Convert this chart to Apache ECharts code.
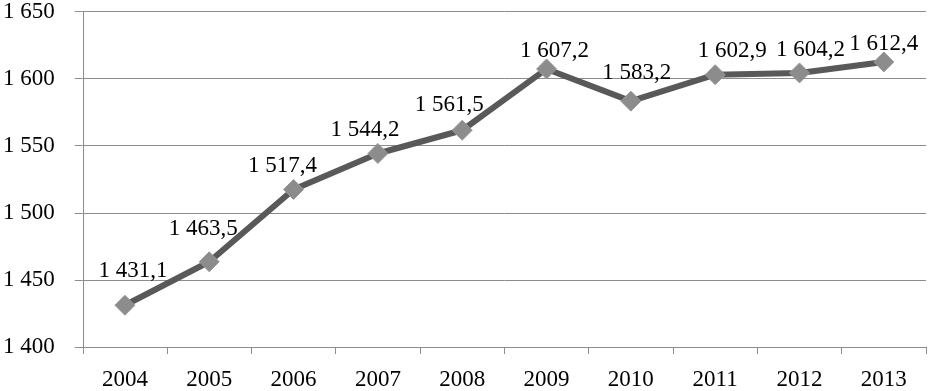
<!DOCTYPE html>
<html lang="ru">
<head>
    <meta charset="UTF-8">
    <title>line chart</title>
    <script type="text/javascript" src="https://cdn.jsdelivr.net/npm/echarts@6/dist/echarts.min.js"></script>
    <style>
        html, body { margin: 0; padding: 0; background: #fff; }
    </style>
</head>
<body>
    <div id="main" style="width: 928px; height: 391px;"></div>
    <script type="text/javascript">
        var years = ['2004', '2005', '2006', '2007', '2008', '2009', '2010', '2011', '2012', '2013'];
        var values = [1431.1, 1463.5, 1517.4, 1544.2, 1561.5, 1607.2, 1583.2, 1602.9, 1604.2, 1612.4];
        var yTicks = [1400, 1450, 1500, 1550, 1600, 1650];

        // label nudges (px), as placed in the original
        var labelOffsets = [[8, -2], [-6, -1], [-11, 9], [-13, 8], [-13, 7],
                            [8, 14], [6, 4], [17, 8], [11, 9], [0, 14]];

        // 1 431,1 style
        function fmt(v, dec) {
            var s = dec ? v.toFixed(1) : String(v);
            var parts = s.split('.');
            var intPart = parts[0].replace(/\B(?=(\d{3})+(?!\d))/g, ' ');
            return parts.length > 1 ? intPart + ',' + parts[1] : intPart;
        }

        var myChart = echarts.init(document.getElementById('main'));
        var font = '"Liberation Serif", "Times New Roman", serif';

        var seriesData = values.map(function (v, i) {
            return { value: v, label: { offset: labelOffsets[i] } };
        });

        myChart.setOption({
            animation: false,
            grid: { left: 81, right: 2, top: 10, bottom: 39 },
            xAxis: {
                type: 'category',
                data: years,
                boundaryGap: true,
                axisLine: { lineStyle: { color: '#8c8c8c', width: 1 } },
                axisTick: { show: true, length: 7, lineStyle: { color: '#8c8c8c' } },
                axisLabel: { color: '#000', fontFamily: font, fontSize: 23, margin: 21 }
            },
            yAxis: {
                type: 'value',
                min: yTicks[0],
                max: yTicks[yTicks.length - 1],
                interval: 50,
                axisLine: { show: true, lineStyle: { color: '#8c8c8c', width: 1 } },
                axisTick: { show: true, length: 8, lineStyle: { color: '#8c8c8c' } },
                axisLabel: {
                    color: '#000', fontFamily: font, fontSize: 23, margin: 28,
                    formatter: function (v) { return fmt(v, false); }
                },
                splitLine: { lineStyle: { color: '#8c8c8c', width: 1 } }
            },
            series: [{
                type: 'line',
                data: seriesData,
                lineStyle: { color: '#595959', width: 6 },
                symbol: 'diamond',
                symbolSize: 20,
                itemStyle: { color: '#8c8c8c', borderColor: '#999', borderWidth: 1 },
                label: {
                    show: true,
                    position: 'top',
                    distance: 10,
                    color: '#000',
                    fontFamily: font,
                    fontSize: 23,
                    formatter: function (p) { return fmt(p.value, true); }
                }
            }]
        });
    </script>
</body>
</html>
